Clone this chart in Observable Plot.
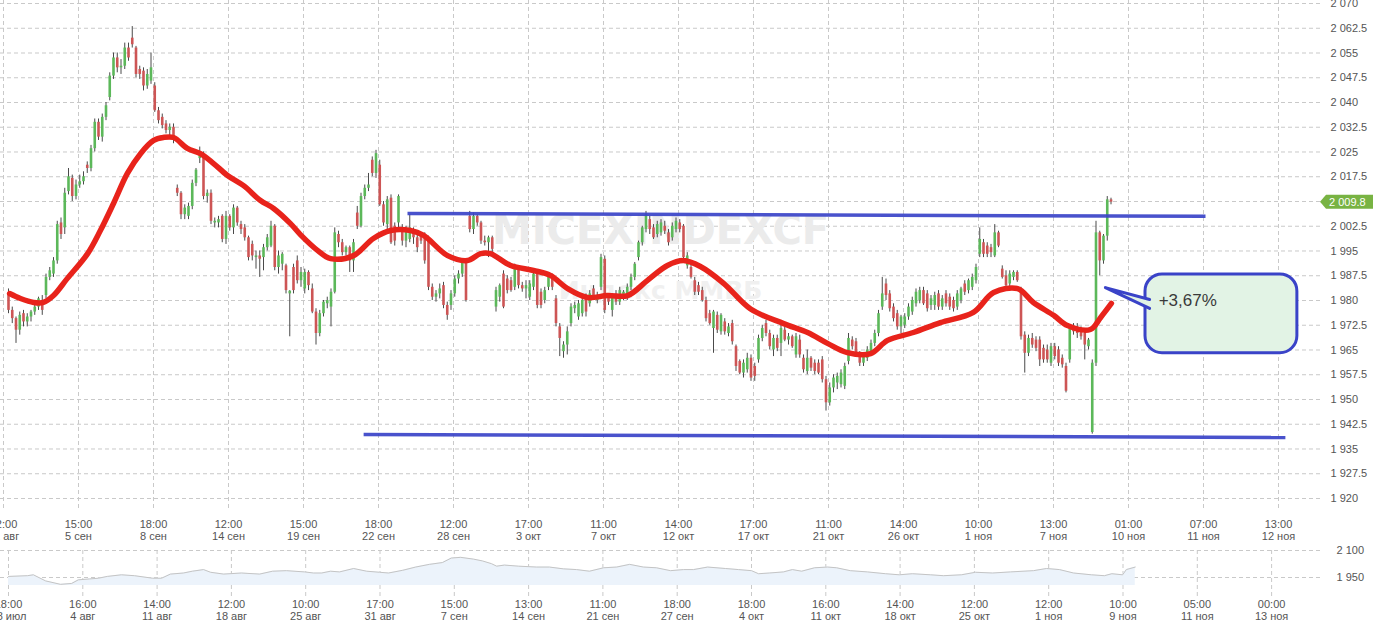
<!DOCTYPE html>
<html><head><meta charset="utf-8">
<script src="https://cdn.jsdelivr.net/npm/d3@7"></script>
<script src="https://cdn.jsdelivr.net/npm/@observablehq/plot@0.6"></script>
<style>
html,body{margin:0;padding:0;background:#fff;}
#chart{width:1380px;height:626px;overflow:hidden;position:relative;}
#chart svg{display:block;overflow:hidden;}
</style></head><body><div id="chart"></div>
<script>
// ---- hourly-ish candles (one bar per slot) ----
const opens = [
1982,1977,1974.5,1971,1976,1973.5,1975,1976.5,1978,1980,
1981.5,1987,1988,1992,2003.5,2002,2013,2017,2011.5,2015,
2016,2021,2020,2026,2034,2029.5,2035.5,2041.5,2048,2053.5,
2050.5,2051,2056.5,2059.5,2056.5,2050,2049.5,2045,2046.5,2045,
2037.5,2035.5,2033.5,2031.5,2032.5,2014,2012.5,2006,2005.5,2008.5,
2015.5,2023,2024,2011.5,2012.5,2003.5,2003.5,2005.5,1998.5,2005.5,
2002,2008,2003,2002,1999,1997,1993,1993.5,1993,1996,
1996.5,2002.5,1990,1991,1990.5,1982,1990,1992,1986,1983.5,
1988.5,1983.5,1976.5,1970,1976,1979,1978,1982.5,2000,1997.5,
1994.5,1996,1992,2006.5,2002.5,2011.5,2014,2022.5,2018.5,2021,
2009,2003,2011,2002.5,2003.5,2001.5,1998,1998.5,2001,1999,
1999.5,1999.5,1999,1984,1981,1982,1984.5,1978.5,1978.5,1982,
1986.5,1988,1991.5,2005.5,2001.5,2005.5,2003.5,1998,1997.5,1999,
1978,1981,1988,1986.5,1986,1984,1990,1984.5,1983.5,1981,
1984,1988,1982.5,1980,1984,1987,1980.5,1972,1964.5,1966.5,
1973,1977.5,1975,1976,1981,1979,1983.5,1980,1984,1992.5,
1981,1977,1982,1979.5,1981,1981,1984,1987,1993,1997.5,
2001.5,2004.5,2002,2000,2000.5,2002.5,2000.5,1999,2001.5,2003.5,
2002.5,1990.5,1990,1986,1984.5,1983,1980,1976,1971.5,1975.5,
1970.5,1973.5,1970,1973,1966,1961.5,1958,1959,1962.5,1960,
1962,1968.5,1973,1970,1965,1968.5,1967,1971,1968,1969,
1963.5,1968,1962.5,1958.5,1962.5,1961,1961,1962,1956,1949,
1953.5,1955,1954.5,1954,1961.5,1968,1967.5,1963.5,1961,1962.5,
1964.5,1967,1970,1978,1985,1982,1978,1976,1972,1972.5,
1975,1976.5,1979,1980,1983,1982,1978.5,1978.5,1982,1978,
1982,1981,1980,1978,1980,1985,1983,1984,1986,1994,
1997.5,1996.5,1996,1993.5,2000.5,1989.5,1987.5,1985,1987,1988.5,
1983,1969.5,1964,1968.5,1968,1968,1965.5,1965,1961,1966,
1965,1962.5,1960,1962,1972,1972,1971,1970,1966,1940,
1961,2000.5,1992,1999.5,2010.5];
const highs = [
1983.5,1978,1975,1976.5,1977,1976,1977,1979,1981,1981.5,
1988,1990,1993,2004,2005,2014,2020,2018,2016.5,2018,
2019,2022,2027,2035,2035,2036.5,2040,2049,2055,2055,
2053,2058,2058,2063,2057,2051,2050.5,2050,2055,2046,
2038.5,2036.5,2034.5,2033.5,2033.5,2015,2013,2009,2009.5,2016.5,
2020,2026.5,2025,2013.5,2013.5,2005,2005.5,2006,2007,2006,
2009,2008.5,2004,2003,1999.5,1998,1995,1995,1997,2000,
2004,2003,1995,1994.5,1991,1983,1991,1993.5,1990,1989.5,
1989,1985,1977.5,1977,1980,1981,1983.5,2002,2001,1998.5,
1996.5,1996.5,1998.5,2008.5,2012.5,2015,2018.5,2023.5,2025.5,2022.5,
2010,2011.5,2012,2003.5,2012,2003,2002.5,2006,2002,2000,
2000.5,2000.5,1999.5,1985,1983,1985,1985.5,1979.5,1983,1987.5,
1989,1992.5,1992.5,2007,2006.5,2006,2004,1999.5,1999.5,1999.5,
1984,1985,1989,1987.5,1987,1991,1990.5,1985.5,1986,1986,
1989,1989,1983.5,1984,1988,1988,1981.5,1973,1967.5,1972,
1979,1979.5,1980,1981,1982,1983,1984.5,1982.5,1994,1993.5,
1982,1982,1983,1984,1983,1985,1988,1991.5,1998,2002.5,
2007,2005.5,2003,2004,2004.5,2004,2001.5,2003.5,2005,2004.5,
2003,1994.5,1991,1987,1985.5,1984,1981,1977,1977,1976.5,
1976,1974.5,1973,1974,1966.5,1962,1962,1964,1963.5,1961,
1969.5,1972.5,1974,1971,1969.5,1969.5,1972.5,1972,1970,1969.5,
1970,1969.5,1963.5,1965,1963,1962,1962,1963,1957,1955,
1957.5,1958,1959,1961,1970,1969,1968.5,1964.5,1964,1966,
1968,1971,1977,1987,1986.5,1983,1979,1977,1975.5,1976,
1979,1981,1983.5,1984,1984,1983,1981.5,1982.5,1983,1981.5,
1983,1982,1981,1983,1984,1986,1986.5,1988,1991,2002,
1998.5,1997.5,1997,2003,2001,1990.5,1989,1989,1989,1989,
1984,1970.5,1969.5,1970,1969,1969,1966.5,1966.5,1967,1967,
1966,1963.5,1961,1972.5,1973,1973,1972,1971,1968.5,1962,
2004,2001,2000,2011.5,2011];
const lows = [
1976,1973,1967,1969.5,1972,1972,1973.5,1975.5,1977,1975.5,
1980.5,1986,1987,1991,1998.5,2000,2012,2010,2010.5,2014,
2015,2018.5,2019,2025,2028.5,2028,2034.5,2040.5,2047,2049,
2048.5,2050,2052.5,2056.5,2047.5,2047,2043.5,2044,2045.5,2037,
2033.5,2032,2030.5,2030,2027.5,2011.5,2004.5,2004.5,2004.5,2007.5,
2014.5,2021.5,2010.5,2009.5,2003,2002,2002,1997.5,1997,2001,
2000,2002.5,2000,1998,1992,1992,1989.5,1987,1989,1995,
1996,1989,1988,1989,1982,1969,1982,1985,1984,1982,
1983,1976,1966.5,1969,1975,1977.5,1972,1982,1996,1993.5,
1993.5,1988.5,1988.5,2001.5,2002,2010.5,2013,2017.5,2017,2008.5,
2002.5,2001.5,1997,1996.5,2002,1996.5,1996,1997.5,1997,1994.5,
1997,1991,1983,1980,1979.5,1980.5,1977.5,1974,1977,1981,
1985,1987,1979.5,2000.5,2000,2002.5,1997,1996.5,1993,1994.5,
1976.5,1979.5,1977.5,1982,1982.5,1983,1983.5,1982.5,1980.5,1980,
1983,1977.5,1977.5,1979,1983,1983,1972,1963,1962.5,1963.5,
1972,1976,1974,1975,1975,1978,1980,1979,1983,1976,
1978.5,1975,1978.5,1978.5,1980,1980,1983,1986,1992,1996.5,
2000.5,2000,1998.5,1999,1999.5,2000,1996.5,1998,2000.5,2000.5,
1992.5,1989.5,1986.5,1981.5,1981.5,1979.5,1973.5,1972.5,1964,1970,
1969.5,1969.5,1969,1966.5,1958.5,1957.5,1956.5,1958,1955.5,1955.5,
1961,1967.5,1969,1965,1963,1964.5,1963,1967.5,1966.5,1965.5,
1962.5,1962.5,1958,1957.5,1958.5,1957.5,1957.5,1955,1946.5,1948,
1952,1953,1953.5,1953,1960.5,1965,1963,1960,1960,1961.5,
1963.5,1966,1969,1977,1980,1976.5,1973.5,1971,1970,1971.5,
1974,1975.5,1978,1979,1978.5,1976.5,1977,1977,1977,1977,
1978,1977,1976.5,1977,1979,1981.5,1982,1983,1985,1993,
1993,1993,1993,1993,1996,1986.5,1983.5,1984,1986,1985.5,
1968,1958,1963,1965.5,1964.5,1960,1961,1961,1960,1962,
1960,1959.5,1952,1961,1969.5,1968.5,1968,1962,1965,1939.5,
1960,1987.5,1991,1998,2009];
const closes = [
1977,1974.5,1971,1975.5,1973.5,1975,1976.5,1978,1980.5,1977,
1987,1989,1992,2003,2000,2012.5,2017.5,2011.5,2015,2016,
2017.5,2020,2026,2034,2029.5,2035.5,2039,2048,2053.5,2050.5,
2051,2056.5,2053.5,2057.5,2048.5,2048.5,2045,2048.5,2050.5,2037.5,
2034.5,2033,2031.5,2032.5,2028.5,2012.5,2006,2008,2008.5,2015.5,
2019.5,2024,2011.5,2012.5,2004,2004,2004.5,1998.5,2005.5,2002,
2008,2003.5,2001.5,1999,1993,1993.5,1993.5,1992.5,1996,1999,
2002.5,1990,1993.5,1994,1983,1982.8,1983,1986,1988.5,1988.5,
1984.5,1976.5,1970,1976,1979.5,1980,1982.5,2000.5,1997.5,1994.5,
1996,1992,1997.5,2002.5,2011.5,2014,2015,2018.5,2024.5,2009,
2003.5,2010.5,1997.5,1998,2011.5,1998,2001.5,2002,1999,1996,
1998,1992,1984,1981,1982,1983.5,1978.5,1975.5,1982,1986.5,
1988,1991.5,1980,2001.5,2005.5,2003.5,1998,1997.5,1999,1995.5,
1983,1984.5,1978,1983,1983,1990,1984.5,1983.5,1984.5,1985,
1988,1978.5,1978.5,1983,1987,1984,1973,1968.5,1966.5,1970.5,
1978,1978.5,1979,1980,1976.5,1982,1981,1981.5,1993,1977,
1979.5,1981,1979.5,1983,1982.5,1984,1987,1991,1997.5,2002,
2006,2001.5,1999,2003,2003.5,2001,1997.5,2002.5,2004,2001.5,
1993,1993.5,1987,1982.5,1982.5,1980,1974.5,1973,1976.5,1971,
1975.5,1970.5,1972,1967.5,1960,1958,1961,1962.5,1956.5,1957,
1968.5,1971.5,1970,1966,1968.5,1965.5,1971.5,1968,1969,1966,
1969,1963.5,1959,1962.5,1959.5,1958.5,1958,1956,1949,1953.5,
1956.5,1957,1958,1960,1968.5,1966,1964,1961,1963.5,1965,
1967,1970,1976,1982,1981.5,1977.5,1974.5,1972,1975,1975,
1978,1980,1982.5,1983,1979,1977.5,1980.5,1981.5,1978,1980.5,
1979,1978,1977.5,1982,1983.5,1982.5,1986,1987,1990,1998.5,
1994,1994,1994.5,2000.5,1996.5,1987,1984.5,1988,1988.5,1986,
1969,1964,1968.5,1966.5,1965.5,1962,1962,1962,1966,1963,
1961,1960.5,1952.5,1971.5,1970.5,1970,1969,1966.5,1968,1961,
2000.5,1992,1999.5,2010.5,2009.8];

// ---- moving average (red line), read at bar positions ----
const maPos = [0.3,3.2,6.7,9.3,12,15.7,21.1,24.5,28,31.7,35.2,38.7,41.3,44,47.7,51.2,54.7,58.4,62.7,67.2,70.7,75.2,77.9,82.4,85.9,92,97.3,101.9,107.2,110.7,117.1,122.4,125.9,128.5,133.9,140,144.5,149.1,154.4,159.7,165.1,170.4,175.7,180,184.5,190.7,197.9,206.7,213.1,218.4,223.7,229.9,234.4,241.3,248.5,257.3,262.7,269.1,273.3,278.7,282.4,288.5,291.2,294.1];
const maVals = [1982.1,1980.6,1979.4,1979.4,1981.5,1986.7,1994.2,2001.2,2009.4,2018.5,2024.5,2028.5,2029.4,2029.4,2026.1,2024.5,2021.5,2017.9,2014.8,2010.3,2007.9,2003.3,1999.9,1995.2,1992.7,1993.6,1998.8,2001.2,2001.2,1999.7,1993.6,1992.1,1994.2,1994.2,1990.6,1989.1,1987.6,1983.6,1980.9,1981.5,1981.5,1986.1,1990.6,1992.1,1990.3,1985.2,1977.4,1973.0,1970.3,1967.0,1964.2,1963.9,1967.9,1970.3,1973.3,1976.4,1982.4,1983.6,1979.4,1975.5,1972.4,1971.2,1974.8,1979.1];

// ---- support / resistance lines (blue) ----
const levelStart = [106.4, 94.7];
const levelEnd = [319.2, 340.5];
const levelFrom = [2006.4, 1939.4];
const levelTo = [2005.5, 1938.5];

// ---- callout ----
const calloutText = "+3,67%";
const calloutBox = {x1: 303.2, x2: 343.7, y1: 1987.9, y2: 1964.0};
const calloutPointerX = [304.3, 292.5, 304.3];
const calloutPointerY = [1980.3, 1983.9, 1977.6];
const calloutTextPos = {x: 306.7, y: 1980.0};
const lastPrice = 2009.8;

// ---- axes ----
const yTicks = [1920,1927.5,1935,1942.5,1950,1957.5,1965,1972.5,1980,1987.5,1995,2002.5,2010,2017.5,2025,2032.5,2040,2047.5,2055,2062.5,2070];
const xTickTimes = ["12:00","15:00","18:00","12:00","15:00","18:00","12:00","17:00","11:00","14:00","17:00","11:00","14:00","10:00","13:00","01:00","07:00","13:00"];
const xTickDates = ["31 авг","5 сен","8 сен","14 сен","19 сен","22 сен","28 сен","3 окт","7 окт","12 окт","17 окт","21 окт","26 окт","1 ноя","7 ноя","10 ноя","11 ноя","12 ноя"];

// ---- navigator ----
const navPos = [0,5.1,6.7,10,14,17,18.8,21.8,24.2,26.6,30.4,33.9,38.8,41.2,43.6,47.1,49.5,52.5,54.4,57.9,62.7,67.6,71.1,74.8,79.7,82.1,84.3,86.7,89.1,92.9,96.4,99.9,102.3,106.1,109.6,113.3,116.8,119.2,121.7,125.2,127.6,130,131.4,133.5,137.3,142.1,145.6,149.4,152.9,156.4,160.2,163.7,167.2,170.9,174.4,178.2,181.7,184.4,188.2,193,196.5,200,201.9,204.8,208.6,211,213.5,217,220.5,222.9,226.6,231.2,236.1,239.8,243.3,248.2,251.7,256.5,260.3,264.9,269.7,275.9,279.4,282.9,286.7,291.5,295,297,299.9,300.9,303.3];
const navVals = [1956,1960,1965,1931,1912,1917,1937,1942,1946,1956,1965,1960,1946,1946,1969,1975,1985,1994,1979,1969,1975,1969,1985,1988,1981,1975,1975,1985,1981,2000,1985,1979,1975,1990,2008,2023,2033,2058,2062,2052,2042,2027,2013,2019,2013,2008,2008,1998,1994,1985,2004,2008,2023,2008,2004,1988,1994,1994,2008,2000,1994,1988,1971,1975,1981,1994,1985,2004,2008,2004,1988,1981,1971,1965,1971,1965,1960,1965,1979,1975,1981,1988,2000,1994,1975,1965,1960,1971,1965,1994,2008];
const navBase = 1905;
const navYTicks = [2100, 1950];
const navTickTimes = ["18:00","16:00","14:00","12:00","10:00","17:00","15:00","13:00","11:00","18:00","18:00","16:00","14:00","12:00","12:00","10:00","05:00","00:00"];
const navTickDates = ["28 июл","4 авг","11 авг","18 авг","25 авг","31 авг","7 сен","14 сен","21 сен","27 сен","4 окт","11 окт","18 окт","25 окт","1 ноя","9 ноя","11 ноя","13 ноя"];

// ---------------------------------------------------------------
const fmt = d3.formatLocale({decimal: ".", thousands: " ", grouping: [3], currency: ["", ""]}).format(",");
const FONT = "'Liberation Sans', Arial, sans-serif";
const GRID = {stroke: "#c9c9c9", strokeOpacity: 1, strokeDasharray: "4,3", strokeWidth: 1};
const UP = "#5cb85a", DOWN = "#cd5555", BLUE = "#3a43c8";

const bars = closes.map((c, i) => ({i, o: opens[i], h: highs[i], l: lows[i], c}));
const ups = bars.filter(d => d.c >= d.o);
const downs = bars.filter(d => d.c < d.o);
const ma = maPos.map((p, k) => ({p, v: maVals[k]}));
const levels = levelStart.map((s, k) => ({x1: s, x2: levelEnd[k], y1: levelFrom[k], y2: levelTo[k]}));
const pointer = calloutPointerX.map((x, k) => ({x, y: calloutPointerY[k]}));

const xTickPos = xTickTimes.map((_, k) => 20 * k - 4 / 3);
const xLabel = new Map(xTickPos.map((p, k) => [p, xTickTimes[k] + "\n" + xTickDates[k]]));
// the last-price tag covers the tick label that falls under it
const yLabelTicks = yTicks.filter(t => Math.abs(t - lastPrice) > 3);

const priceTag = (index, scales, values, dims) => {
  const y = scales.y(lastPrice);
  const x0 = dims.width - dims.marginRight;
  const g = d3.create("svg:g");
  g.append("path")
    .attr("d", `M${x0},${y} L${x0 + 6},${y - 7} L${x0 + 53},${y - 7} L${x0 + 53},${y + 7} L${x0 + 6},${y + 7} Z`)
    .attr("fill", "#78b343");
  g.append("text").attr("x", x0 + 9).attr("y", y).attr("dy", "0.35em")
    .attr("text-anchor", "start")
    .attr("fill", "#fff").attr("font-size", 11).attr("font-family", FONT)
    .text(fmt(lastPrice));
  return g.node();
};

const main = Plot.plot({
  width: 1380, height: 545,
  marginLeft: 0, marginRight: 60, marginTop: 0, marginBottom: 35,
  x: {domain: [-8 / 3.75, 1312 / 3.75], axis: null, label: null},
  y: {domain: [1916.36, 2070.91], axis: null, label: null},
  style: {fontFamily: FONT, fontSize: "11px", color: "#555", background: "#fff", overflow: "hidden"},
  marks: [
    Plot.gridY(yTicks, GRID),
    Plot.gridX(xTickPos, GRID),
    Plot.text(["MICEXINDEXCF"], {frameAnchor: "middle", dy: -24, fontSize: 40, fontWeight: "bold", fill: "#ebebeb", fontFamily: "'DejaVu Sans', Verdana, sans-serif"}),
    Plot.text(["Индекс ММВБ"], {frameAnchor: "middle", dy: 35, fontSize: 25, fontWeight: "bold", fill: "#f0f0f0", fontFamily: "'DejaVu Sans', Verdana, sans-serif"}),
    Plot.ruleX(bars, {x: "i", y1: "l", y2: "h", stroke: "#4a4a4a", strokeWidth: 1}),
    Plot.ruleX(ups, {x: "i", y1: "o", y2: "c", stroke: UP, strokeWidth: 2.6}),
    Plot.ruleX(downs, {x: "i", y1: "o", y2: "c", stroke: DOWN, strokeWidth: 2.6}),
    Plot.line(ma, {x: "p", y: "v", stroke: "#e8231b", strokeWidth: 5.5, curve: "catmull-rom", strokeLinecap: "round", strokeLinejoin: "round"}),
    Plot.link(levels, {x1: "x1", y1: "y1", x2: "x2", y2: "y2", stroke: BLUE, strokeWidth: 3.5, strokeOpacity: 0.92}),
    Plot.rect([calloutBox], {x1: "x1", x2: "x2", y1: "y1", y2: "y2", rx: 17, fill: "#e2f3e5", stroke: BLUE, strokeWidth: 3}),
    Plot.line(pointer, {x: "x", y: "y", fill: "#e2f3e5", stroke: BLUE, strokeWidth: 3, strokeLinejoin: "round"}),
    Plot.text([calloutTextPos], {x: "x", y: "y", text: () => calloutText, textAnchor: "start", fontSize: 17, fill: "#3a3a3a", fontFamily: FONT}),
    Plot.axisY(yLabelTicks, {anchor: "right", label: null, tickSize: 0, tickPadding: 10, tickFormat: fmt, fill: "#555", fontSize: 11}),
    Plot.axisX(xTickPos, {anchor: "bottom", label: null, tickSize: 0, tickPadding: 9, tickFormat: d => xLabel.get(d), lineHeight: 1.1, fill: "#555", fontSize: 11}),
    priceTag
  ]
});

const navTickPos = navTickTimes.map((_, k) => 20 * k);
const navLabel = new Map(navTickPos.map((p, k) => [p, navTickTimes[k] + "\n" + navTickDates[k]]));
const navData = navPos.map((p, k) => ({p, v: navVals[k]}));

const nav = Plot.plot({
  width: 1380, height: 81,
  marginLeft: 0, marginRight: 60, marginTop: 5, marginBottom: 29,
  x: {domain: [-8 / 3.715, 1312 / 3.715], axis: null, label: null},
  y: {domain: [1838.9, 2100], axis: null, label: null},
  style: {fontFamily: FONT, fontSize: "11px", color: "#555", background: "#fff", overflow: "hidden"},
  marks: [
    Plot.gridY(navYTicks, GRID),
    Plot.gridX(navTickPos, GRID),
    Plot.areaY(navData, {x: "p", y1: navBase, y2: "v", fill: "#ecf3fb"}),
    Plot.lineY(navData, {x: "p", y: "v", stroke: "#c4c4c4", strokeWidth: 1}),
    Plot.axisY(navYTicks, {anchor: "right", label: null, tickSize: 0, tickPadding: 16, tickFormat: fmt, fill: "#555", fontSize: 11}),
    Plot.axisX(navTickPos, {anchor: "bottom", label: null, tickSize: 0, tickPadding: 2, tickFormat: d => navLabel.get(d), lineHeight: 1.1, fill: "#555", fontSize: 11})
  ]
});

const root = document.getElementById("chart");
root.appendChild(main);
root.appendChild(nav);
</script>
</body></html>
